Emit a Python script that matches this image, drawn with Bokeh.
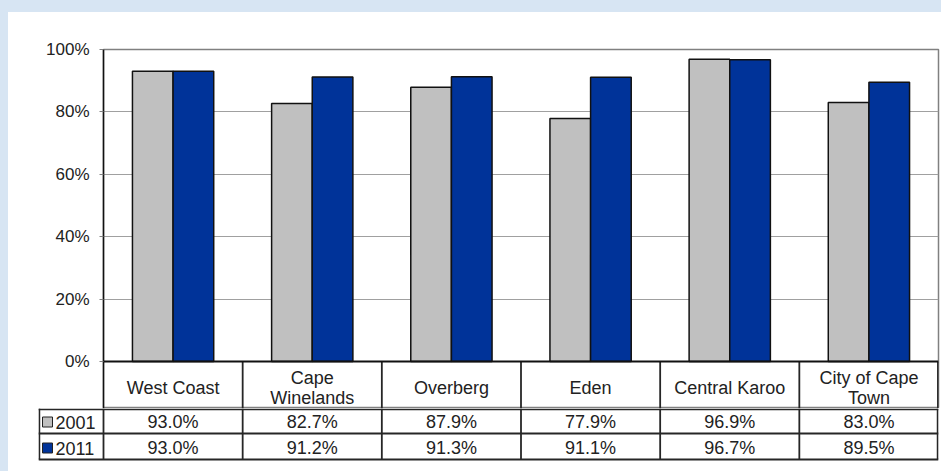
from bokeh.plotting import figure
from bokeh.layouts import column, row
from bokeh.models import Range1d, FactorRange, FixedTicker, Spacer, ColumnDataSource
from bokeh.transform import dodge
from bokeh.core.properties import value
from bokeh.embed import file_html
from bokeh.resources import INLINE

# ---------------- data ----------------
categories = ["West Coast", "Cape\nWinelands", "Overberg", "Eden", "Central Karoo", "City of Cape\nTown"]
series_names = ["2001", "2011"]
values_2001 = [93.0, 82.7, 87.9, 77.9, 96.9, 83.0]
values_2011 = [93.0, 91.2, 91.3, 91.1, 96.7, 89.5]
y_ticks = [0, 20, 40, 60, 80, 100]
y_tick_labels = ["0%", "20%", "40%", "60%", "80%", "100%"]

# ---------------- style / layout ----------------
FONT = "Liberation Sans"
FS_AX = "17px"
FS = "18px"
TXT = "#222222"
GRAY = "#c0c0c0"
BLUE = "#003399"
LINE = "#262626"
BG = "#d7e5f3"
W = 933
LEFT_A = 95
LEFT_B = 30
RIGHT = 3
TOP = 37
PX100 = 312        # pixels from 0% to 100%
HEADER_PX = 47     # height of the category header row
ROWS_H = 63        # height of the value-rows figure

n = len(categories)
y_start = -HEADER_PX * 100.0 / PX100
px = 100.0 / PX100  # data units per pixel

# ---------------- chart + header row ----------------
p = figure(x_range=FactorRange(factors=categories, range_padding=0),
           y_range=Range1d(y_start, 100), width=W, height=TOP + PX100 + HEADER_PX,
           output_backend="svg", toolbar_location=None,
           min_border_left=LEFT_A, min_border_right=RIGHT,
           min_border_top=TOP, min_border_bottom=0)
p.frame_align = False

src = ColumnDataSource(dict(cat=categories, v1=values_2001, v2=values_2011))
p.vbar(x=dodge("cat", -0.146, range=p.x_range), top="v1", width=0.292, source=src,
       fill_color=GRAY, line_color="#111111", line_width=1.5)
p.vbar(x=dodge("cat", 0.146, range=p.x_range), top="v2", width=0.292, source=src,
       fill_color=BLUE, line_color="#111111", line_width=1.5)

p.xaxis.visible = False
p.xgrid.visible = False
yax = p.yaxis[0]
yax.ticker = FixedTicker(ticks=y_ticks)
yax.major_label_overrides = {t: l for t, l in zip(y_ticks, y_tick_labels)}
yax.axis_line_color = "#111111"
yax.axis_line_width = 1.5
yax.major_tick_out = 4
yax.major_tick_in = 0
yax.major_tick_line_color = "#808080"
yax.minor_tick_line_color = None
yax.major_label_text_font = FONT
yax.major_label_text_font_size = FS_AX
yax.major_label_text_color = TXT
yax.major_label_standoff = 10
p.ygrid.grid_line_color = "#a0a0a0"
p.outline_line_color = "#808080"
p.outline_line_width = 1.5
p.background_fill_color = "white"
p.border_fill_color = "white"

# header row of the data table (below the 0% line)
hb = [i if i < n else n - 0.004 for i in range(1, n + 1)]
p.segment(x0=hb, y0=[0] * len(hb), x1=hb, y1=[y_start] * len(hb),
          line_color=LINE, line_width=1.8)
p.segment(x0=[0], y0=[0], x1=[n], y1=[0], line_color="#111111", line_width=2)
centers = [i + 0.5 for i in range(n)]
p.text(x=centers, y=[-26 * px] * n, text=categories, text_font=value(FONT), text_font_size=FS,
       text_color=TXT, text_align="center", text_baseline="middle", text_line_height=1.0)

# ---------------- value rows ----------------
col_px = (W - LEFT_A - RIGHT) / n
x_start = -(LEFT_A - LEFT_B) / col_px

t = figure(x_range=Range1d(x_start, n), y_range=Range1d(ROWS_H, 0), width=W, height=ROWS_H,
           output_backend="svg", toolbar_location=None,
           min_border_left=LEFT_B, min_border_right=RIGHT,
           min_border_top=0, min_border_bottom=0)
t.frame_align = False
t.axis.visible = False
t.grid.visible = False
t.outline_line_color = None
t.background_fill_color = "white"
t.border_fill_color = "white"

row_lines = [0.8, 25, 51]
bounds = [i if i < n else n - 0.006 for i in range(n + 1)]
t.segment(x0=bounds, y0=[0] * len(bounds), x1=bounds, y1=[51] * len(bounds),
          line_color=LINE, line_width=1.8)
t.segment(x0=[x_start + 0.006], y0=[0], x1=[x_start + 0.006], y1=[51],
          line_color=LINE, line_width=1.8)
t.segment(x0=[x_start] * len(row_lines), y0=row_lines, x1=[n] * len(row_lines), y1=row_lines,
          line_color=LINE, line_width=1.8)

t.text(x=centers, y=[13.5] * n, text=[f"{v:.1f}%" for v in values_2001], text_font=value(FONT),
       text_font_size=FS, text_color=TXT, text_align="center", text_baseline="middle")
t.text(x=centers, y=[39.5] * n, text=[f"{v:.1f}%" for v in values_2011], text_font=value(FONT),
       text_font_size=FS, text_color=TXT, text_align="center", text_baseline="middle")

# legend keys
sq_x = (47 - (8 + LEFT_A)) / col_px
lab_x = (55 - (8 + LEFT_A)) / col_px
t.scatter(x=[sq_x, sq_x], y=[13.5, 39.5], marker="square", size=10,
          fill_color=[GRAY, BLUE], line_color="#222222", line_width=1)
t.text(x=[lab_x, lab_x], y=[13.5, 39.5], text=series_names, text_font=value(FONT),
       text_font_size=FS, text_color=TXT, text_align="left", text_baseline="middle")

layout = row(Spacer(width=8, height=471),
             column(Spacer(width=W, height=12), p, t))

html = file_html(layout, INLINE)
style = ("<style>html{background-color:#ffffff;"
         "background-image:linear-gradient(to right,%s 8px,rgba(255,255,255,0) 8px),"
         "linear-gradient(to bottom,%s 12px,rgba(255,255,255,0) 12px);"
         "background-repeat:no-repeat;}</style>" % (BG, BG))
html = html.replace("</head>", style + "</head>", 1)
open("out.html", "w").write(html)
